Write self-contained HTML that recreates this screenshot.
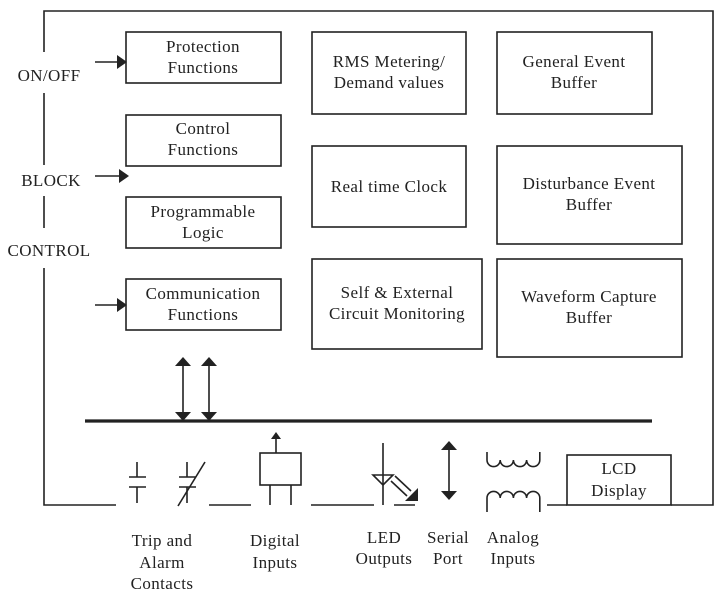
<!DOCTYPE html>
<html><head><style>
html,body{margin:0;padding:0;background:#fff;}
svg{display:block;}
text{font-family:"Liberation Serif",serif;font-size:17px;letter-spacing:0.4px;fill:#222;text-anchor:middle;}
</style></head><body>
<svg width="728" height="605" viewBox="0 0 728 605" xmlns="http://www.w3.org/2000/svg">
<g stroke="#222" stroke-width="1.6" fill="none">
<polyline points="44,52 44,11 713,11 713,505 671,505"/>
<line x1="44" y1="93" x2="44" y2="165"/>
<line x1="44" y1="196" x2="44" y2="228"/>
<polyline points="44,268 44,505 116,505"/>
<line x1="209" y1="505" x2="251" y2="505"/>
<line x1="311" y1="505" x2="374" y2="505"/>
<line x1="394" y1="505" x2="415" y2="505"/>
<line x1="547" y1="505" x2="567" y2="505"/>
<rect x="126" y="32" width="155" height="51"/>
<rect x="126" y="115" width="155" height="51"/>
<rect x="126" y="197" width="155" height="51"/>
<rect x="126" y="279" width="155" height="51"/>
<rect x="312" y="32" width="154" height="82"/>
<rect x="312" y="146" width="154" height="81"/>
<rect x="312" y="259" width="170" height="90"/>
<rect x="497" y="32" width="155" height="82"/>
<rect x="497" y="146" width="185" height="98"/>
<rect x="497" y="259" width="185" height="98"/>
<rect x="567" y="455" width="104" height="50"/>
<line x1="95" y1="62" x2="118" y2="62"/>
<line x1="95" y1="176" x2="120" y2="176"/>
<line x1="95" y1="305" x2="118" y2="305"/>
<line x1="183" y1="362" x2="183" y2="414"/>
<line x1="209" y1="362" x2="209" y2="414"/>
<line x1="137" y1="462" x2="137" y2="477"/>
<line x1="129" y1="477" x2="146" y2="477"/>
<line x1="129" y1="487" x2="146" y2="487"/>
<line x1="137" y1="487" x2="137" y2="503"/>
<line x1="187" y1="462" x2="187" y2="477"/>
<line x1="179" y1="477" x2="196" y2="477"/>
<line x1="179" y1="487" x2="196" y2="487"/>
<line x1="187" y1="487" x2="187" y2="503"/>
<line x1="178" y1="506" x2="205" y2="462"/>
<rect x="260" y="453" width="41" height="32"/>
<line x1="276" y1="453" x2="276" y2="438"/>
<line x1="270" y1="485" x2="270" y2="505"/>
<line x1="291" y1="485" x2="291" y2="505"/>
<line x1="383" y1="443" x2="383" y2="505"/>
<polygon points="373,475 393,475 383,485"/>
<line x1="395" y1="476" x2="411" y2="491"/>
<line x1="391" y1="481" x2="407" y2="496"/>
<line x1="449" y1="448" x2="449" y2="494"/>
<path d="M487,452 v8 a6.6,6.6 0 0 0 13.2,0 a6.6,6.6 0 0 0 13.2,0 a6.6,6.6 0 0 0 13.2,0 a6.6,6.6 0 0 0 13.2,0 v-8"/>
<path d="M487,512 v-14 a6.6,6.6 0 0 1 13.2,0 a6.6,6.6 0 0 1 13.2,0 a6.6,6.6 0 0 1 13.2,0 a6.6,6.6 0 0 1 13.2,0 v14"/>
</g>
<g fill="#222">
<line x1="85" y1="421" x2="652" y2="421" stroke="#222" stroke-width="3.2"/>
<polygon points="117,55 127,62 117,69"/>
<polygon points="119,169 129,176 119,183"/>
<polygon points="117,298 127,305 117,312"/>
<polygon points="183,357 175,366 191,366"/>
<polygon points="183,421 175,412 191,412"/>
<polygon points="209,357 201,366 217,366"/>
<polygon points="209,421 201,412 217,412"/>
<polygon points="276,432 271,439 281,439"/>
<polygon points="418,501 405,501 418,488"/>
<polygon points="449,441 441,450 457,450"/>
<polygon points="449,500 441,491 457,491"/>
</g>
<text x="203" y="52">Protection</text><text x="203" y="73">Functions</text>
<text x="203" y="134">Control</text><text x="203" y="155">Functions</text>
<text x="203" y="217">Programmable</text><text x="203" y="238">Logic</text>
<text x="203" y="299">Communication</text><text x="203" y="320">Functions</text>
<text x="389" y="67">RMS Metering/</text><text x="389" y="88">Demand values</text>
<text x="389" y="192">Real time Clock</text>
<text x="397" y="298">Self &amp; External</text><text x="397" y="319">Circuit Monitoring</text>
<text x="574" y="67">General Event</text><text x="574" y="88">Buffer</text>
<text x="589" y="189">Disturbance Event</text><text x="589" y="210">Buffer</text>
<text x="589" y="302">Waveform Capture</text><text x="589" y="323">Buffer</text>
<text x="619" y="474">LCD</text><text x="619" y="496">Display</text>
<text x="49" y="81">ON/OFF</text>
<text x="51" y="186">BLOCK</text>
<text x="49" y="256">CONTROL</text>
<text x="162" y="546">Trip and</text><text x="162" y="568">Alarm</text><text x="162" y="589">Contacts</text>
<text x="275" y="546">Digital</text><text x="275" y="568">Inputs</text>
<text x="384" y="543">LED</text><text x="384" y="564">Outputs</text>
<text x="448" y="543">Serial</text><text x="448" y="564">Port</text>
<text x="513" y="543">Analog</text><text x="513" y="564">Inputs</text>
</svg>
</body></html>
